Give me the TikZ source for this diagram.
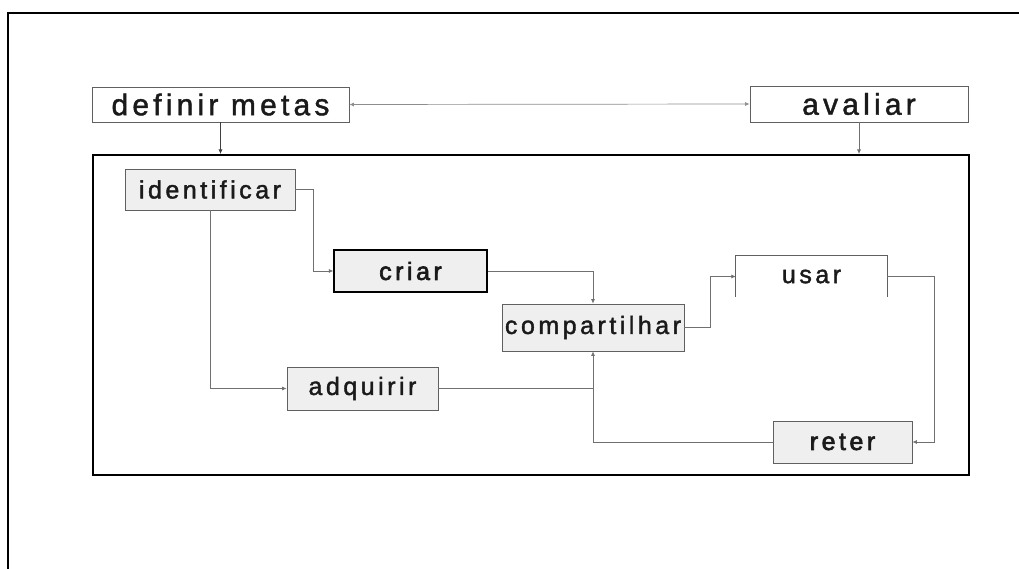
\documentclass[tikz,border=0pt]{standalone}
\usepackage{fontspec}
\setmainfont{Liberation Sans}
\usetikzlibrary{arrows.meta}
\definecolor{boxfill}{HTML}{EFEFEF}
\definecolor{linegray}{HTML}{707070}
\definecolor{edgegray}{HTML}{606060}
\definecolor{txt}{HTML}{1A1A1A}
\newcommand{\boxfont}{\fontsize{25}{29}\selectfont\addfontfeatures{LetterSpace=14,FakeBold=1.6}}
\newcommand{\heavyfont}{\fontsize{25}{29}\selectfont\addfontfeatures{LetterSpace=14,FakeBold=2.6}}
\newcommand{\topfont}{\fontsize{30}{34}\selectfont\addfontfeatures{LetterSpace=14,FakeBold=1.4}}
\tikzset{
  base/.style={draw=edgegray, line width=0.8pt, inner sep=0pt, text=txt, font=\boxfont},
  shadebox/.style={base, fill=boxfill},
  topbox/.style={base, fill=white, font=\topfont},
  conn/.style={draw=linegray, line width=0.7pt, -{Latex[length=4.5pt,width=4pt]}},
  connplain/.style={draw=linegray, line width=0.7pt},
}
\begin{document}
\begin{tikzpicture}[x=1pt,y=-1pt]
\useasboundingbox (0,0) rectangle (1019,569);
% outer frame
\draw[line width=1.3pt] (8,569) -- (8,13) -- (1019,13);
% big box
\node[draw=black, line width=2pt, minimum width=876pt, minimum height=320pt, inner sep=0pt] (big) at (531,315) {};
% top boxes
\node[topbox, minimum width=257pt, minimum height=35pt] (def) at (220.5,104.5) {definir metas};
\node[topbox, minimum width=218pt, minimum height=36pt] (aval) at (859,104) {avaliar};
% inner boxes
\node[shadebox, minimum width=170pt, minimum height=41pt] (ident) at (210,189.5) {identificar};
\node[shadebox, draw=black, line width=1.3pt, minimum width=153pt, minimum height=42pt, font=\heavyfont] (criar) at (410.5,271) {criar};
\node[shadebox, minimum width=182pt, minimum height=47pt] (comp) at (593,327.5) {compartilhar};
\node[inner sep=0pt, minimum width=151pt, minimum height=41pt, text=txt, font=\boxfont] (usar) at (811.5,276.5) {usar};
\draw[edgegray, line width=0.9pt] (usar.south west) -- (usar.north west) -- (usar.north east) -- (usar.south east);
\node[shadebox, minimum width=151pt, minimum height=43pt] (adq) at (362.5,388.5) {adquirir};
\node[shadebox, minimum width=139pt, minimum height=42pt, font=\heavyfont] (reter) at (842.5,442) {reter};
% connectors
\draw[draw=linegray!80, line width=0.7pt, {Latex[length=4.5pt,width=4pt]}-{Latex[length=4.5pt,width=4pt]}] (def.east) -- (aval.west);
\draw[conn, draw=black!75] (def.south) -- (def.south |- big.north);
\draw[conn] (aval.south) -- (aval.south |- big.north);
\draw[conn] (ident.east) -- ++(18,0) |- (criar.west);
\draw[conn] (ident.south) |- (adq.west);
\draw[conn] (criar.east) -| (comp.north);
\draw[conn] (comp.east) -- ++(26,0) |- (usar.west);
\draw[conn] (usar.east) -- ++(47,0) |- (reter.east);
\draw[conn] (reter.west) -| (comp.south);
\draw[connplain] (adq.east) -- (adq.east -| comp.south);
\end{tikzpicture}
\end{document}
